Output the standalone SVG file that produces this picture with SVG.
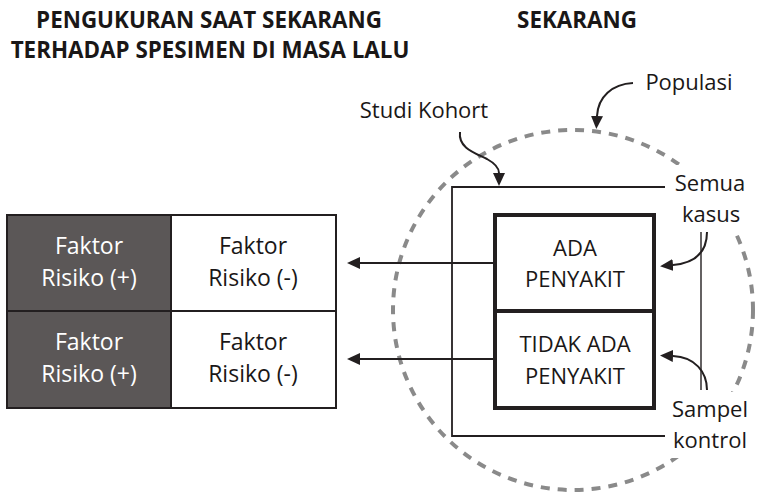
<svg xmlns="http://www.w3.org/2000/svg" width="757" height="496" viewBox="0 0 757 496">
  <style>
    text { font-family: "Open Sans", "Noto Sans", "Liberation Sans", sans-serif; font-size: 22px; fill: #1a1717; text-anchor: middle; }
    .title { font-weight: bold; font-size: 22.4px; }
    .tab { font-size: 23px; }
    .inv { fill: #ffffff; }
    .cell { stroke: #231f20; stroke-width: 2; }
    .dark { fill: #5b5757; }
    .light { fill: #ffffff; }
    .pop { fill: none; stroke: #8a8a8a; stroke-width: 4; stroke-dasharray: 9 8; }
    .frame { fill: none; stroke: #231f20; stroke-width: 1.8; }
    .box { fill: #ffffff; stroke: #231f20; stroke-width: 4; }
    .bg { fill: #ffffff; }
    .wire { fill: none; stroke: #231f20; stroke-width: 2; }
    .thin { fill: none; stroke: #231f20; stroke-width: 1.4; }
  </style>
  <defs>
    <marker id="head" viewBox="0 0 13 12" refX="0" refY="6" markerWidth="13" markerHeight="12" markerUnits="userSpaceOnUse" orient="auto">
      <path d="M0,0 L13,6 L0,12 z" fill="#231f20"/>
    </marker>
  </defs>

  <rect width="757" height="496" fill="#ffffff"/>

  <!-- headings -->
  <g id="heading-past">
    <text class="title" x="209" y="28">PENGUKURAN SAAT SEKARANG</text>
    <text class="title" x="210" y="58">TERHADAP SPESIMEN DI MASA LALU</text>
  </g>
  <g id="heading-now">
    <text class="title" x="577" y="28">SEKARANG</text>
  </g>

  <!-- population boundary -->
  <g id="populasi">
    <circle class="pop" cx="573" cy="310" r="180"/>
  </g>

  <!-- cohort frame (open on the right) -->
  <g id="kohort">
    <polyline class="frame" points="665,187 452,187 452,436 665,436"/>
  </g>

  <!-- risk factor table -->
  <g id="tabel">
    <g id="cell-1-1">
      <rect class="cell dark" x="7" y="215" width="164" height="96"/>
      <text class="tab inv" x="89" y="254">Faktor</text>
      <text class="tab inv" x="89" y="286">Risiko (+)</text>
    </g>
    <g id="cell-1-2">
      <rect class="cell light" x="171" y="215" width="165" height="96"/>
      <text class="tab" x="253" y="254">Faktor</text>
      <text class="tab" x="253" y="286">Risiko (-)</text>
    </g>
    <g id="cell-2-1">
      <rect class="cell dark" x="7" y="311" width="164" height="97"/>
      <text class="tab inv" x="89" y="350">Faktor</text>
      <text class="tab inv" x="89" y="382">Risiko (+)</text>
    </g>
    <g id="cell-2-2">
      <rect class="cell light" x="171" y="311" width="165" height="97"/>
      <text class="tab" x="253" y="350">Faktor</text>
      <text class="tab" x="253" y="382">Risiko (-)</text>
    </g>
  </g>

  <!-- case / control boxes -->
  <g id="ada-penyakit">
    <rect class="box" x="495" y="215" width="159" height="96"/>
    <text x="575" y="256">ADA</text>
    <text x="575" y="287">PENYAKIT</text>
  </g>
  <g id="tidak-ada-penyakit">
    <rect class="box" x="495" y="311" width="159" height="97"/>
    <text x="575" y="352">TIDAK ADA</text>
    <text x="575" y="384">PENYAKIT</text>
  </g>

  <!-- side labels -->
  <g id="label-populasi">
    <text x="689" y="90">Populasi</text>
  </g>
  <g id="label-kohort">
    <text x="424" y="118">Studi Kohort</text>
  </g>
  <g id="label-semua-kasus">
    <rect class="bg" x="668" y="165" width="86" height="66"/>
    <text x="710" y="191">Semua</text>
    <text x="711" y="222">kasus</text>
  </g>
  <g id="label-sampel-kontrol">
    <rect class="bg" x="668" y="392" width="86" height="66"/>
    <text x="710" y="417">Sampel</text>
    <text x="710" y="448">kontrol</text>
  </g>

  <!-- connectors -->
  <g id="connectors">
    <line class="wire" x1="493" y1="263" x2="360" y2="263" marker-end="url(#head)"/>
    <line class="wire" x1="493" y1="359" x2="360" y2="359" marker-end="url(#head)"/>
    <path class="wire" d="M633,83 C612,84 598,97 597,116" marker-end="url(#head)"/>
    <path class="wire" d="M460,132 C458,148 475,153 487,159 C496,164 499,168 499,173" marker-end="url(#head)"/>
    <line class="thin" x1="701" y1="232" x2="701" y2="390"/>
    <path class="wire" d="M707,232 C707,252 695,263 673,265" marker-end="url(#head)"/>
    <path class="wire" d="M707,390 C707,372 695,357 673,356" marker-end="url(#head)"/>
  </g>
</svg>
